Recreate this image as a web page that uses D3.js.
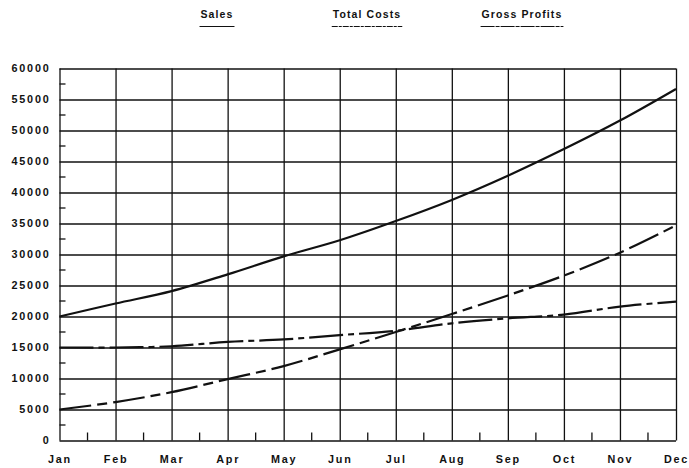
<!DOCTYPE html>
<html>
<head>
<meta charset="utf-8">
<script src="https://cdn.jsdelivr.net/npm/d3@7"></script>
<style>
  body { margin: 0; background: #fff; }
  text { font-family: "Liberation Sans", Arial, sans-serif; font-weight: bold; fill: #111; }
</style>
</head>
<body>
<svg id="chart" width="689" height="468"></svg>
<script>
// Monthly figures
const months = ["Jan", "Feb", "Mar", "Apr", "May", "Jun", "Jul", "Aug", "Sep", "Oct", "Nov", "Dec"];
const sales = [20000, 22100, 24100, 26800, 29700, 32300, 35400, 38800, 42700, 47000, 51600, 56700];
const totalCosts = [15000, 15000, 15200, 15900, 16300, 17000, 17700, 18900, 19700, 20300, 21600, 22400];
const grossProfits = [5000, 6200, 7800, 9900, 12000, 14700, 17500, 20400, 23400, 26600, 30300, 34700];
const yTicks = d3.range(0, 60001, 5000);
const yMinorTicks = d3.range(2500, 60000, 5000);
const legendLabels = ["Sales", "Total Costs", "Gross Profits"];

const svg = d3.select("#chart");
const plotLeft = 59.5, plotRight = 676, plotTop = 68.5, plotBottom = 440.5;

const x = d3.scalePoint().domain(months).range([plotLeft, plotRight]);
const y = d3.scaleLinear().domain([0, 60000]).range([plotBottom, plotTop]);

const labelStyle = sel => sel
  .style("font-size", "10.8px").style("letter-spacing", "1.8px")
  .style("font-family", "'Liberation Sans', Arial, sans-serif").style("font-weight", "bold")
  .attr("fill", "#111");

// Horizontal grid + value labels
const yAxis = svg.append("g")
  .attr("transform", `translate(${plotLeft},0)`)
  .call(d3.axisLeft(y).tickValues(yTicks).tickSize(-(plotRight - plotLeft)).tickPadding(9).tickFormat(d3.format("d")));
yAxis.select(".domain").remove();
yAxis.selectAll(".tick line").attr("stroke", "#111").attr("stroke-width", 1.3);
yAxis.selectAll(".tick text").call(labelStyle);

// Vertical grid + month labels
const xAxis = svg.append("g")
  .attr("transform", `translate(0,${plotBottom})`)
  .call(d3.axisBottom(x).tickSize(-(plotBottom - plotTop)).tickPadding(15));
xAxis.select(".domain").remove();
xAxis.selectAll(".tick line").attr("stroke", "#111").attr("stroke-width", 1.3);
xAxis.selectAll(".tick text").call(labelStyle);

// Minor ticks: half-month marks on the baseline, half-step marks on the value axis
const mids = d3.range(months.length - 1).map(i => (x(months[i]) + x(months[i + 1])) / 2);
svg.append("g").selectAll("line").data(mids).join("line")
  .attr("x1", d => d).attr("x2", d => d)
  .attr("y1", plotBottom).attr("y2", plotBottom - 8)
  .attr("stroke", "#111").attr("stroke-width", 1.3);
svg.append("g").selectAll("line").data(yMinorTicks).join("line")
  .attr("x1", plotLeft).attr("x2", plotLeft + 6)
  .attr("y1", d => y(d)).attr("y2", d => y(d))
  .attr("stroke", "#111").attr("stroke-width", 1.3);

// Series lines
const series = [
  { name: legendLabels[0], values: sales, dash: null },
  { name: legendLabels[1], values: totalCosts, dash: "34,5,6,5" },
  { name: legendLabels[2], values: grossProfits, dash: "32,6,10,6" }
];
const line = d3.line()
  .x((d, i) => x(months[i]))
  .y(d => y(d))
  .curve(d3.curveCatmullRom.alpha(0.5));
svg.append("g").selectAll("path").data(series).join("path")
  .attr("d", d => line(d.values))
  .attr("fill", "none")
  .attr("stroke", "#111")
  .attr("stroke-width", 2.2)
  .attr("stroke-dasharray", d => d.dash);

// Legend: labels with underline samples
const legendCenters = [217, 367, 522];
const legendDash = [null, "6,1,3,1", "14,1,4,1"];
const lg = svg.append("g");
series.forEach((s, i) => {
  const t = lg.append("text")
    .attr("x", legendCenters[i]).attr("y", 18)
    .attr("text-anchor", "middle")
    .style("font-size", "10.5px").style("letter-spacing", "1.1px")
    .text(s.name);
  const w = t.node().getComputedTextLength();
  lg.append("line")
    .attr("x1", legendCenters[i] - w / 2 - 1).attr("x2", legendCenters[i] + w / 2 + 1)
    .attr("y1", 26.5).attr("y2", 26.5)
    .attr("stroke", "#111").attr("stroke-width", 1.2)
    .attr("stroke-dasharray", legendDash[i]);
});
</script>
</body>
</html>
